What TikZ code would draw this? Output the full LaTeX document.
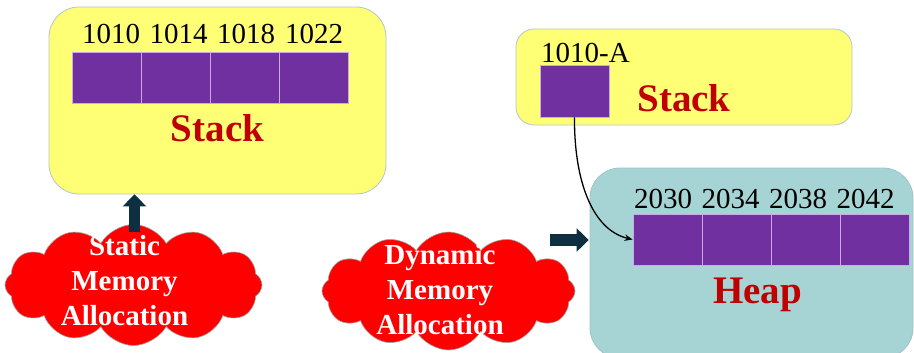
\documentclass[tikz,border=0pt]{standalone}
\usepackage{fontspec}
\setmainfont{Liberation Serif}
\usetikzlibrary{shapes.symbols,arrows.meta}

\definecolor{stackyellow}{HTML}{FFFF75}
\definecolor{boxedge}{HTML}{B4C6C8}
\definecolor{heapteal}{HTML}{A6D4D4}
\definecolor{cellpurple}{HTML}{7030A0}
\definecolor{celledge}{HTML}{C9A9E6}
\definecolor{titlered}{HTML}{C00000}
\definecolor{blockarrow}{HTML}{0E2F3F}
\definecolor{cloudred}{HTML}{FF0000}
\definecolor{cloudedge}{HTML}{A0A0A0}

\tikzset{
  membox/.style={rectangle, draw=boxedge, line width=0.8pt, inner sep=0pt},
  cell/.style={rectangle, fill=cellpurple, draw=celledge, line width=0.8pt,
    minimum width=69pt, minimum height=51pt, inner sep=0pt},
  addr/.style={anchor=base west, inner sep=0pt, font=\fontsize{29}{34}\selectfont},
  title/.style={anchor=base, inner sep=0pt, text=titlered,
    font=\fontsize{39}{46}\selectfont\bfseries},
  memcloud/.style={cloud, cloud puffs=12, cloud puff arc=120, aspect=2.1,
    fill=cloudred, draw=cloudedge, line width=0.6pt, inner sep=0pt},
  cloudtext/.style={align=center, text=white, inner sep=0pt,
    font=\fontsize{29}{35}\selectfont\bfseries},
  fatarrow/.style={draw=blockarrow, line width=11.5pt,
    -{Triangle[width=23pt,length=12pt]}},
}

\begin{document}
\begin{tikzpicture}[x=1pt,y=-1pt]
\useasboundingbox (0,0) rectangle (914,353);

% static stack frame
\node[membox, fill=stackyellow, rounded corners=30pt,
  minimum width=337pt, minimum height=187pt] (lstack) at (217.5,100.5) {};
\foreach \i/\x in {1/107.2, 2/176.2, 3/245.2, 4/314.2}
  \node[cell] (lc\i) at (\x,77.5) {};
\node[addr] (la1) at (82,43.5) {1010};
\node[addr] (la2) at (149.5,43.5) {1014};
\node[addr] (la3) at (217,43.5) {1018};
\node[addr] (la4) at (285,43.5) {1022};
\node[title] (ltitle) at (217.5,142) {Stack};

% dynamic stack frame holding the pointer
\node[membox, fill=stackyellow, rounded corners=18pt,
  minimum width=336pt, minimum height=96pt] (rstack) at (684,77) {};
\node[cell, minimum height=52pt] (rcell) at (574.5,91) {};
\node[addr] (ra) at (541,63) {1010-A};
\node[title] (rtitle) at (684,112) {Stack};

% heap block
\node[membox, fill=heapteal, draw=heapteal!80!gray, rounded corners=30pt,
  minimum width=323pt, minimum height=190pt] (heap) at (751.5,263) {};
\foreach \i/\x in {1/667.5, 2/736.5, 3/805.5, 4/874.5}
  \node[cell] (hc\i) at (\x,239.5) {};
\node[addr] (ha1) at (634,208) {2030};
\node[addr] (ha2) at (701.5,208) {2034};
\node[addr] (ha3) at (769,208) {2038};
\node[addr] (ha4) at (836.5,208) {2042};
\node[title] (htitle) at (757.5,303) {Heap};

% allocation clouds
\node[memcloud, minimum width=257pt, minimum height=121pt] (scloud) at (133.5,285) {};
\node[cloudtext] (stext) at (124.5,281) {Static\\Memory\\Allocation};
\node[memcloud, minimum width=253pt, minimum height=118pt] (dcloud) at (448.5,291) {};
\node[cloudtext] (dtext) at (440,289.5) {Dynamic\\Memory\\Allocation};

% block arrows from the clouds to the memory areas
\coordinate (sfoot) at (134.5,232);
\draw[fatarrow] (sfoot) -- (sfoot |- lstack.south);
\coordinate (dfoot) at (550,240);
\draw[fatarrow] (dfoot) -- ([xshift=-1pt]dfoot -| heap.west);

% pointer from the stack cell to the first heap cell
\draw[line width=1.3pt, -{Stealth[length=8pt,width=6.5pt]}]
  (rcell.south) .. controls (574,180) and (592,230) .. (hc1.west);
\end{tikzpicture}
\end{document}
